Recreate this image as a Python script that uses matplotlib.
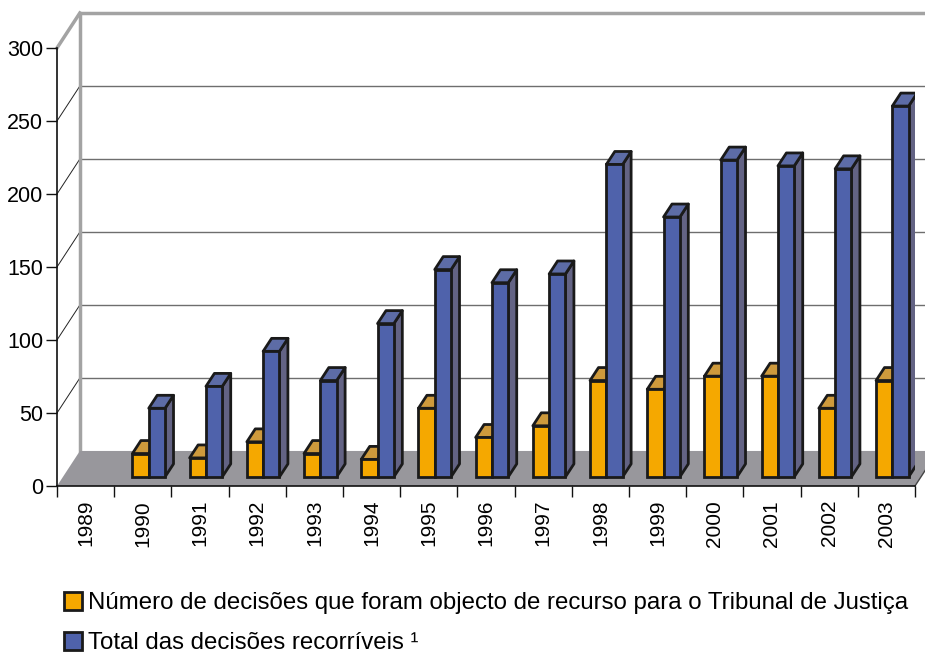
import matplotlib.pyplot as plt
from matplotlib.patches import Polygon, Patch

plt.rcParams['font.family'] = ['Liberation Sans', 'DejaVu Sans']

anos = ["1989", "1990", "1991", "1992", "1993", "1994", "1995", "1996",
        "1997", "1998", "1999", "2000", "2001", "2002", "2003"]
recurso_tj = [None, 16, 13, 24, 16, 12, 47, 27, 35, 66, 60, 69, 69, 47, 66]
total_recorriveis = [None, 47, 62, 86, 66, 105, 142, 133, 139, 214, 178,
                     217, 213, 211, 254]
y_ticks = [0, 50, 100, 150, 200, 250, 300]

legenda = ["Número de decisões que foram objecto de recurso para o Tribunal de Justiça",
           "Total das decisões recorríveis \u00b9"]

# pseudo-3d look
DX, DY = 0.40, 24.0          # depth of the box (category units, value units)
F1, F2 = 0.26, 0.63          # bar front / back as fraction of depth
BW = 0.285                   # width of one bar

cores = {
    "orange": ("#F5A800", "#CE9A3C", "#B07A10"),
    "blue": ("#4F62AB", "#5D6CA6", "#636384"),
}
FLOOR = "#98979C"
EDGE = "#1A1A1A"

fig = plt.figure(figsize=(9.25, 6.54), dpi=100)
ax = fig.add_axes([57 / 925, 168 / 654, 858 / 925, 438 / 654])
n = len(anos)
ax.set_xlim(-0.5, n - 0.5)
ax.set_ylim(0, 300)

# floor
ax.add_patch(Polygon([(-0.5, 0), (n - 0.5, 0), (n - 0.5 + DX, DY), (-0.5 + DX, DY)],
                     closed=True, facecolor=FLOOR, edgecolor="none", zorder=1,
                     clip_on=False))

# wall gridlines
for t in y_ticks[1:-1]:
    ax.plot([-0.5 + DX, n - 0.5 + DX], [t + DY, t + DY], color="#6E6E6E",
            lw=1.0, zorder=0.5, clip_on=False)
for t in y_ticks[1:]:
    ax.plot([-0.5, -0.5 + DX], [t, t + DY], color="#222222", lw=0.7,
            zorder=0.5, clip_on=False)

# wall borders
top = y_ticks[-1] + DY
ax.plot([-0.5 + DX, -0.5 + DX, n - 0.5 + DX], [DY, top, top],
        color="#A3A3A3", lw=2.5, zorder=0.6, clip_on=False)
ax.plot([-0.5, -0.5 + DX], [y_ticks[-1], top], color="#A3A3A3", lw=2.5,
        zorder=0.6, clip_on=False)
ax.plot([n - 0.5, n - 0.5 + DX], [0, DY], color="#444444", lw=1.0,
        zorder=1.5, clip_on=False)


def draw_bar(x0, v, key, z):
    front, topc, side = cores[key]
    x1 = x0 + BW
    ax.bar(x0 + F1 * DX, v, width=BW, bottom=F1 * DY, align="edge",
           color=front, edgecolor=EDGE, linewidth=2.0, zorder=z + 0.2)
    b1, b2 = F1 * DY, F2 * DY
    dx1, dx2 = F1 * DX, F2 * DX
    ax.add_patch(Polygon([(x0 + dx1, v + b1), (x1 + dx1, v + b1),
                          (x1 + dx2, v + b2), (x0 + dx2, v + b2)],
                         closed=True, facecolor=topc, edgecolor=EDGE,
                         linewidth=2.0, zorder=z + 0.1, joinstyle="round"))
    ax.add_patch(Polygon([(x1 + dx1, b1), (x1 + dx2, b2),
                          (x1 + dx2, v + b2), (x1 + dx1, v + b1)],
                         closed=True, facecolor=side, edgecolor=EDGE,
                         linewidth=2.0, zorder=z, joinstyle="round"))


for i in range(n):
    z = 3 + i
    if recurso_tj[i] is not None:
        draw_bar(i - BW, recurso_tj[i], "orange", z)
    if total_recorriveis[i] is not None:
        draw_bar(i, total_recorriveis[i], "blue", z + 0.5)

# axes
for s in ["top", "right"]:
    ax.spines[s].set_visible(False)
for s in ["left", "bottom"]:
    ax.spines[s].set_color("#111111")
    ax.spines[s].set_linewidth(1.2)
    ax.spines[s].set_zorder(2)

ax.set_yticks(y_ticks)
ax.set_yticklabels([str(t) for t in y_ticks], fontsize=15.5)
ax.tick_params(axis="y", length=8, width=1, color="#111111", pad=2)

ax.set_xticks([i - 0.5 for i in range(n + 1)])
ax.set_xticklabels([])
ax.tick_params(axis="x", length=8, width=1, color="#111111")
ax.set_xticks(range(n), minor=True)
ax.set_xticklabels(anos, minor=True, rotation=90, fontsize=15)
ax.tick_params(axis="x", which="minor", length=0, pad=10)

handles = [Patch(facecolor=cores["orange"][0], edgecolor=EDGE, linewidth=2),
           Patch(facecolor=cores["blue"][0], edgecolor=EDGE, linewidth=2)]
fig.legend(handles, legenda, loc="upper left", bbox_to_anchor=(64 / 925, 1 - 592 / 654),
           frameon=False, fontsize=17.3, handlelength=0.75, handleheight=0.75,
           handletextpad=0.25, labelspacing=0.75, borderpad=0, borderaxespad=0)

fig.savefig("out.png", dpi=100)
